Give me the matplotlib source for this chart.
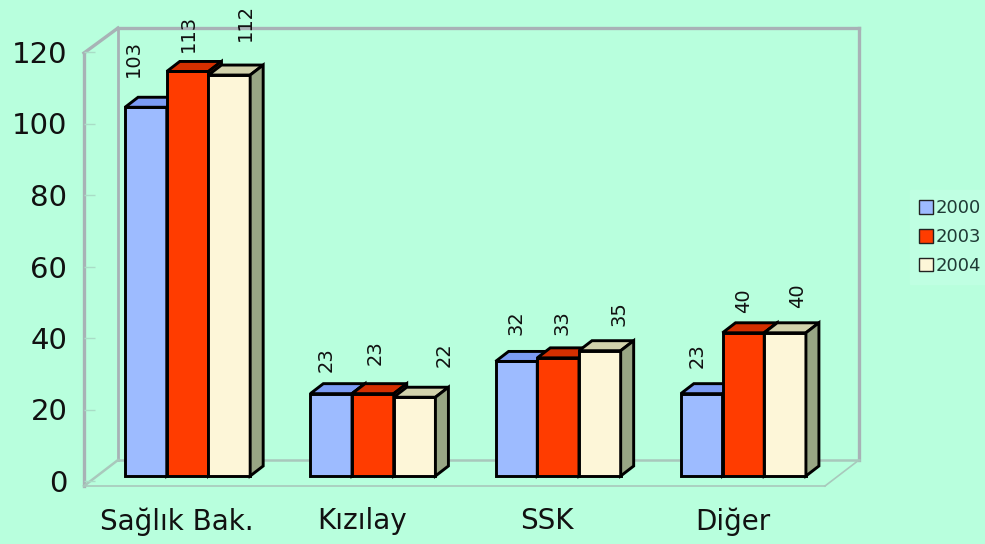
import matplotlib
matplotlib.use('Agg')
from matplotlib import pyplot as plt
from matplotlib.lines import Line2D
from matplotlib.patches import Patch, Polygon

categories = ['Sağlık Bak.', 'Kızılay', 'SSK', 'Diğer']
years = ['2000', '2003', '2004']
values_2000 = [103, 23, 32, 23]
values_2003 = [113, 23, 33, 40]
values_2004 = [112, 22, 35, 40]
y_ticks = [0, 20, 40, 60, 80, 100, 120]

# label offsets in pixels, the source placed them unevenly
nudge_x = [[-13, 1, 16], [-5, 2, 30], [0, 4, 19], [-5, 0, 12]]
nudge_y = [[30, 19, 34], [22, 29, 30], [26, 23, 25], [26, 20, 25]]

BG = '#B8FFDD'
WALL = '#A8B2B6'
FLOOR = '#A9C8BC'
FRONT = ['#9DBBFF', '#FF3C00', '#FDF6D8']
TOP = ['#7C9CF5', '#D42F00', '#D2D2AC']
SIDE = ['#6F7FB0', '#A83000', '#98A684']

W, H = 985, 544


def px_box(left, top, right, bottom):
    return [left / W, 1 - bottom / H, (right - left) / W, (bottom - top) / H]


def wall_line(x0, y0, x1, y1, color=WALL, lw=2.0):
    fig.add_artist(Line2D([x0 / W, x1 / W], [1 - y0 / H, 1 - y1 / H],
                          color=color, lw=lw, zorder=0))


def draw_bar(ax, x, value, width, i):
    ax.bar(x, value, width, color=FRONT[i], edgecolor='black', lw=2.1,
           zorder=3 + x, clip_on=False)
    dx = 13 / 185.25
    dy = 10 / 3.58
    left, right = x - width / 2, x + width / 2
    top = [(left, value), (left + dx, value + dy),
           (right + dx, value + dy), (right, value)]
    side = [(right, 0), (right + dx, dy), (right + dx, value + dy), (right, value)]
    for pts, col in ((top, TOP[i]), (side, SIDE[i])):
        ax.add_patch(Polygon(pts, closed=True, facecolor=col, edgecolor='black',
                             lw=2.1, zorder=3 + x, clip_on=False))


if __name__ == '__main__':

    fig = plt.figure(figsize=(W / 100, H / 100), dpi=100, facecolor=BG)

    # box of the fake 3d chart
    wall_line(84, 486, 84, 53, lw=2.4)
    wall_line(84, 53, 118, 28, lw=2.4)
    wall_line(118, 28, 859, 28, lw=2.4)
    wall_line(859, 28, 859, 460, lw=2.4)
    wall_line(118, 28, 118, 460, lw=2.0)
    wall_line(118, 460, 859, 460, color=FLOOR, lw=1.8)
    wall_line(84, 486, 118, 460, color=FLOOR, lw=1.8)
    wall_line(84, 486, 825, 486, color=FLOOR, lw=1.2)
    wall_line(825, 486, 859, 460, color=FLOOR, lw=1.2)

    wall = fig.add_axes(px_box(84, 52, 825, 481))
    wall.patch.set_alpha(0)
    for s in wall.spines.values():
        s.set_visible(False)
    wall.set_xlim(-0.5, 3.5)
    wall.set_ylim(0, 120)
    wall.set_yticks(y_ticks)
    wall.tick_params(axis='y', labelsize=21, length=8, width=1, color='#A9DCC6',
                     direction='in', pad=12, labelcolor='#111111')
    wall.set_xticks(range(len(categories)))
    wall.set_xticklabels(categories)
    wall.tick_params(axis='x', labelsize=20, length=0, pad=19, labelcolor='#111111')

    ax = fig.add_axes(px_box(95, 46.4, 836, 476))
    ax.patch.set_alpha(0)
    ax.axis('off')
    ax.set_xlim(-0.5, 3.5)
    ax.set_ylim(0, 120)

    series = [values_2000, values_2003, values_2004]
    width = 41.7 / 185.25
    for c in range(len(categories)):
        for i, vals in enumerate(series):
            x = c + (i - 1) * width
            draw_bar(ax, x, vals[c], width, i)
            ax.annotate(str(vals[c]), xy=(x, vals[c]),
                        xytext=(nudge_x[c][i], nudge_y[c][i]),
                        textcoords='offset pixels', rotation=90, ha='center',
                        va='bottom', fontsize=14, color='#111111',
                        annotation_clip=False, zorder=20)

    handles = [Patch(facecolor=FRONT[i], edgecolor='#222222', lw=1) for i in range(3)]
    fig.legend(handles, years, loc='center left',
               bbox_to_anchor=(910 / W, 1 - 237 / H), fontsize=13, frameon=True,
               facecolor='#BFFFE2', edgecolor='#BFFFE2', framealpha=1,
               handlelength=0.8, handleheight=0.8, handletextpad=0.1,
               labelspacing=0.6, borderpad=0.5, borderaxespad=0, fancybox=False,
               labelcolor='#1F3A35')

    fig.savefig('out.png', dpi=100, facecolor=BG)
    plt.close(fig)
